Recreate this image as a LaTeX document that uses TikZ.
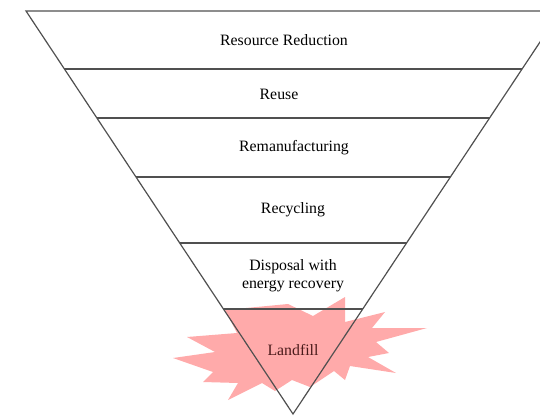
\documentclass[tikz,border=0pt]{standalone}
\usepackage{fontspec}
\setmainfont{Liberation Serif}
\usetikzlibrary{calc}
\definecolor{edgegray}{HTML}{505050}
\definecolor{burstpink}{HTML}{FFAAAA}
\definecolor{burstink}{HTML}{4A1A1A}
\begin{document}
\begin{tikzpicture}[x=1pt,y=-1pt,
  edge/.style={draw=edgegray,line width=1.2pt},
  label/.style={font=\fontsize{15.8}{18}\selectfont,text=black,align=center,inner sep=0pt}]
\useasboundingbox (0,0) rectangle (540,415);
\clip (0,0) rectangle (540,415);
% starburst
\fill[burstpink] (225,310) -- (288,304) -- (313,316) -- (345,297) -- (345,322) -- (385,312) -- (372,328) -- (427,328) -- (376,342) -- (389,353) -- (368,357) -- (396,373) -- (350,366) -- (345,380) -- (334,371) -- (310,387) -- (292,380) -- (275,391) -- (262,383) -- (228,400) -- (238,383) -- (203,382) -- (213,372) -- (173,358) -- (215,352) -- (187,337) -- (237,333) -- cycle;
% triangle
\coordinate (TL) at (26,11);
\coordinate (TR) at (560.6,11);
\coordinate (A) at (293,414);
\draw[edge] (TL) -- (TR) -- (A) -- cycle;
\foreach \t/\n in {0.1439/1,0.2655/2,0.4119/3,0.5757/4,0.7395/5}{
  \coordinate (L\n) at ($(TL)!\t!(A)$);
  \coordinate (R\n) at ($(TR)!\t!(A)$);
  \draw[edge] (L\n) -- (R\n);
}
\node[label] (n1) at (284,40) {Resource Reduction};
\node[label] (n2) at (279,94) {Reuse};
\node[label] (n3) at (294,148) {Remanufacturing};
\node[label] (n4) at (293,210) {Recycling};
\node[label] (n5) at (293,276) {Disposal with\\energy recovery};
\node[label,text=burstink] (n6) at (293,350) {Landfill};
\end{tikzpicture}
\end{document}
